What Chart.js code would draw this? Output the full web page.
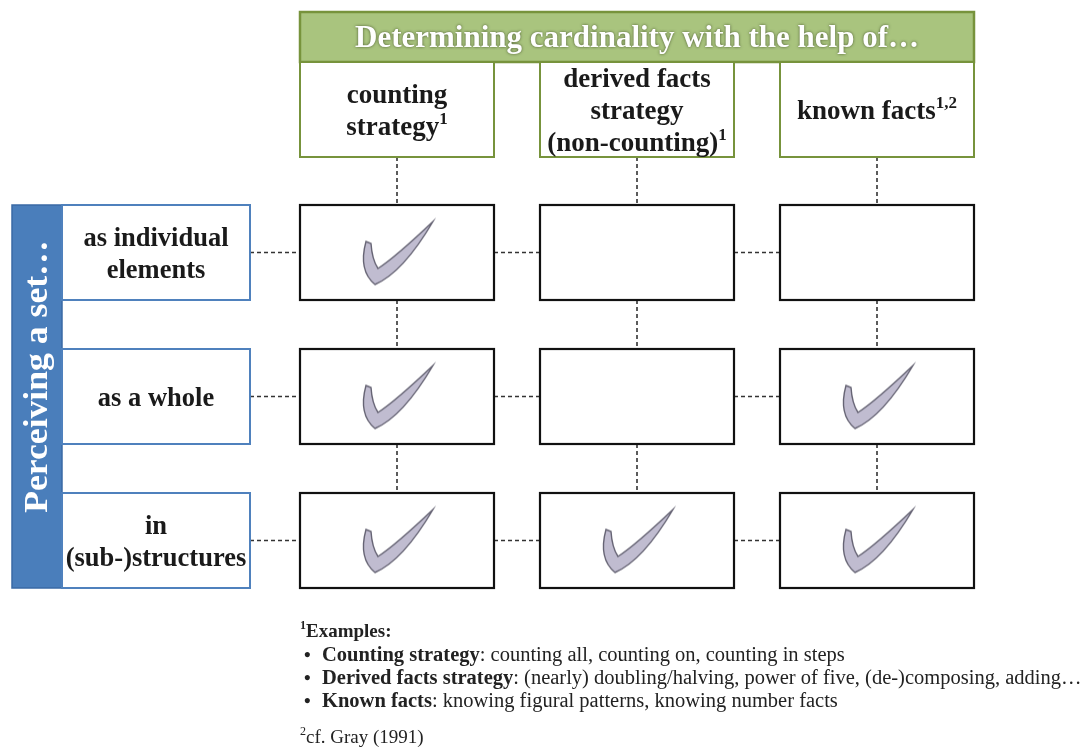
<!DOCTYPE html>
<html>
<head>
<meta charset="utf-8">
<script src="https://cdn.jsdelivr.net/npm/chart.js@4/dist/chart.umd.min.js"></script>
<style>
  html, body { margin: 0; padding: 0; background: #fff; }
  canvas { display: block; }
</style>
</head>
<body>
<canvas id="grid" width="1091" height="751"></canvas>
<script>
// data
const headerTitle = 'Determining cardinality with the help of…';
const rowTitle = 'Perceiving a set…';
const columnLabels = [
    ['counting', 'strategy{1}'],
    ['derived facts', 'strategy', '(non-counting){1}'],
    ['known facts{1,2}']
];
const rowLabels = [
    ['as individual', 'elements'],
    ['as a whole'],
    ['in', '(sub-)structures']
];
// 1 = strategy applies (check mark), rows x columns
const applies = [
    [1, 0, 0],
    [1, 0, 1],
    [1, 1, 1]
];
const footnoteTitle = '{1}Examples:';
const footnoteBold = ['Counting strategy', 'Derived facts strategy', 'Known facts'];
const footnoteText = [
    ': counting all, counting on, counting in steps',
    ': (nearly) doubling/halving, power of five, (de-)composing, adding…',
    ': knowing figural patterns, knowing number facts'
];
const footnoteRef = '{2}cf. Gray (1991)';

// layout
const W = 1091, H = 751;
const colX = [300, 540, 780];
const colW = 194;
const rowY = [205, 349, 493];
const rowH = 95;
const headTop = 12, headBarH = 50, headBoxBottom = 157;
const sideX = 12, sideW = 50, labelRight = 250;
const SERIF = '"Liberation Serif", "DejaVu Serif", serif';

// check mark drawn once, used as the point style
function makeCheck() {
    const c = document.createElement('canvas');
    c.width = 90; c.height = 80;
    const g = c.getContext('2d');
    g.translate(45, 40);
    g.beginPath();
    g.moveTo(-31, -11);
    g.quadraticCurveTo(-39, 18, -22, 32);
    g.quadraticCurveTo(6, 20, 36, -31);
    g.quadraticCurveTo(-2, 5, -19, 16);
    g.quadraticCurveTo(-25, 7, -26, -9);
    g.closePath();
    g.fillStyle = '#c0bcd0';
    g.fill();
    g.lineWidth = 1.4;
    g.strokeStyle = '#666474';
    g.stroke();
    return c;
}

const checkPoints = [];
applies.forEach((row, r) => row.forEach((v, c) => {
    if (v) checkPoints.push({ x: colX[c] + colW / 2, y: rowY[r] + rowH / 2 });
}));

// text with {sup} parts
function richParts(str) {
    return str.split(/(\{[^}]*\})/).filter(s => s.length).map(s =>
        s[0] === '{' ? { t: s.slice(1, -1), sup: true } : { t: s, sup: false });
}
function drawRich(ctx, parts, x, y, size, weight, align) {
    const fontOf = p => `${p.weight || weight} ${p.sup ? Math.round(size * 0.62) : size}px ${SERIF}`;
    let total = 0;
    parts.forEach(p => { ctx.font = fontOf(p); p.w = ctx.measureText(p.t).width; total += p.w; });
    let cur = align === 'center' ? x - total / 2 : x;
    ctx.textAlign = 'left';
    ctx.textBaseline = 'middle';
    parts.forEach(p => {
        ctx.font = fontOf(p);
        ctx.fillText(p.t, cur, p.sup ? y - size * 0.32 : y);
        cur += p.w;
    });
}

const diagramPlugin = {
    id: 'diagram',
    beforeDatasetsDraw(chart) {
        const ctx = chart.ctx;
        const sx = v => chart.scales.x.getPixelForValue(v);
        const sy = v => chart.scales.y.getPixelForValue(v);
        const rect = (x0, y0, x1, y1, fill, stroke, lw) => {
            const a = sx(x0), b = sy(y0), w = sx(x1) - a, h = sy(y1) - b;
            if (fill) { ctx.fillStyle = fill; ctx.fillRect(a, b, w, h); }
            if (stroke) { ctx.lineWidth = lw; ctx.strokeStyle = stroke; ctx.strokeRect(a, b, w, h); }
        };
        const dash = (x0, y0, x1, y1) => {
            ctx.beginPath();
            ctx.moveTo(sx(x0), sy(y0));
            ctx.lineTo(sx(x1), sy(y1));
            ctx.stroke();
        };
        ctx.save();

        // dashed connectors
        ctx.setLineDash([4, 3]);
        ctx.lineWidth = 1.6;
        ctx.strokeStyle = '#333';
        colX.forEach(x => {
            const cx = x + colW / 2;
            dash(cx, headBoxBottom, cx, rowY[0]);
            for (let r = 0; r < rowY.length - 1; r++) dash(cx, rowY[r] + rowH, cx, rowY[r + 1]);
        });
        rowY.forEach(y => {
            const cy = y + rowH / 2;
            dash(labelRight, cy, colX[0], cy);
            for (let c = 0; c < colX.length - 1; c++) dash(colX[c] + colW, cy, colX[c + 1], cy);
        });
        ctx.setLineDash([]);

        // top header
        const right = colX[colX.length - 1] + colW;
        rect(colX[0], headTop, right, headTop + headBarH, '#a9c47e', '#77933c', 2.5);
        colX.forEach(x => rect(x, headTop + headBarH, x + colW, headBoxBottom, '#fff', '#77933c', 2));
        ctx.save();
        ctx.shadowColor = 'rgba(40,50,20,0.75)';
        ctx.shadowBlur = 3;
        ctx.fillStyle = '#fff';
        drawRich(ctx, richParts(headerTitle), sx((colX[0] + right) / 2), sy(headTop + headBarH / 2 + 2), 31, 'bold', 'center');
        ctx.restore();

        ctx.fillStyle = '#1a1a1a';
        columnLabels.forEach((lines, c) => {
            const cx = sx(colX[c] + colW / 2);
            const mid = (headTop + headBarH + headBoxBottom) / 2 + 2.5;
            lines.forEach((ln, i) => {
                const y = mid + (i - (lines.length - 1) / 2) * 32;
                drawRich(ctx, richParts(ln), cx, sy(y), 27, 'bold', 'center');
            });
        });

        // left side
        const bottom = rowY[rowY.length - 1] + rowH;
        rect(sideX, rowY[0], sideX + sideW, bottom, '#4a7ebb', '#3a6aa5', 1.5);
        ctx.save();
        ctx.translate(sx(sideX + sideW / 2), sy((rowY[0] + bottom) / 2 - 20));
        ctx.rotate(-Math.PI / 2);
        ctx.scale(1.08, 1);
        ctx.fillStyle = '#fff';
        drawRich(ctx, richParts(rowTitle), 0, 1, 33, 'bold', 'center');
        ctx.restore();

        rowLabels.forEach((lines, r) => {
            rect(sideX + sideW, rowY[r], labelRight, rowY[r] + rowH, '#fff', '#4f81bd', 2);
            ctx.fillStyle = '#1a1a1a';
            lines.forEach((ln, i) => {
                const y = rowY[r] + rowH / 2 + 2.5 + (i - (lines.length - 1) / 2) * 32;
                drawRich(ctx, richParts(ln), sx((sideX + sideW + labelRight) / 2), sy(y), 26.5, 'bold', 'center');
            });
        });

        // grid cells
        rowY.forEach(y => colX.forEach(x => rect(x, y, x + colW, y + rowH, '#fff', '#111', 2.2)));

        // footnotes
        ctx.fillStyle = '#222';
        drawRich(ctx, richParts(footnoteTitle), sx(300), sy(632), 19, 'bold', 'left');
        footnoteBold.forEach((b, i) => {
            const y = sy(656 + i * 23);
            drawRich(ctx, [{ t: '•', sup: false }], sx(304), y, 19, 'bold', 'left');
            drawRich(ctx, [{ t: b, sup: false, weight: 'bold' }, { t: footnoteText[i], sup: false, weight: 'normal' }],
                sx(322), y, 20.5, 'normal', 'left');
        });
        drawRich(ctx, richParts(footnoteRef), sx(300), sy(738), 19, 'normal', 'left');
        ctx.restore();
    }
};

new Chart(document.getElementById('grid'), {
    type: 'scatter',
    data: {
        datasets: [{
            data: checkPoints,
            pointStyle: makeCheck(),
            pointRadius: 30
        }]
    },
    options: {
        responsive: false,
        animation: false,
        events: [],
        layout: { padding: 0, autoPadding: false },
        scales: {
            x: { type: 'linear', min: 0, max: W, display: false },
            y: { type: 'linear', min: 0, max: H, reverse: true, display: false }
        },
        plugins: {
            legend: { display: false },
            tooltip: { enabled: false }
        }
    },
    plugins: [diagramPlugin]
});
</script>
</body>
</html>
